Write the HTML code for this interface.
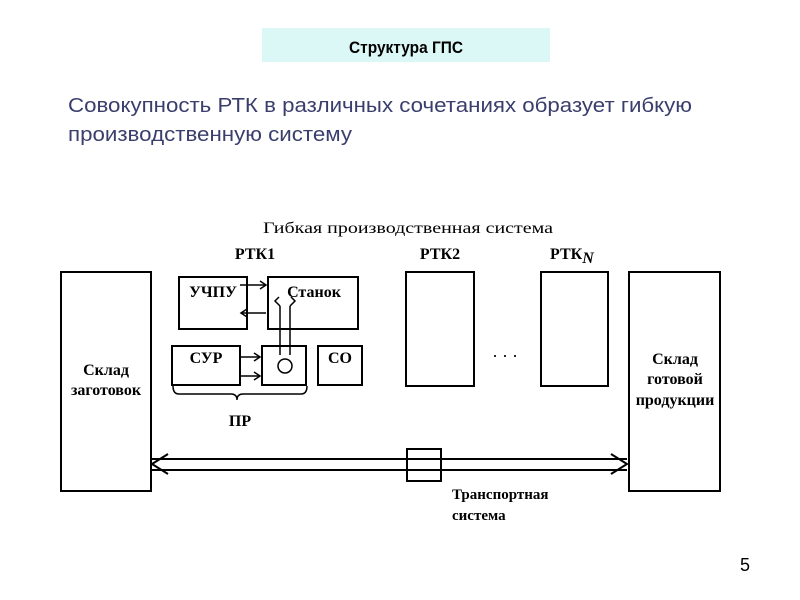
<!DOCTYPE html>
<html><head><meta charset="utf-8"><style>
html,body{margin:0;padding:0;background:#fff;}
svg{display:block;}
</style></head><body>
<svg width="800" height="600" xmlns="http://www.w3.org/2000/svg">
<rect x="0" y="0" width="800" height="600" fill="#fff"/>
<rect x="262" y="28" width="288" height="34" fill="#dcf8f6"/>
<text x="406" y="53" text-anchor="middle" font-family="Liberation Sans, sans-serif" font-weight="bold" font-size="17" fill="#000" textLength="114" lengthAdjust="spacingAndGlyphs">Структура ГПС</text>
<g font-family="Liberation Sans, sans-serif" font-size="20" fill="#3a3e6c">
<text x="68" y="112" textLength="624" lengthAdjust="spacingAndGlyphs">Совокупность РТК в различных сочетаниях образует гибкую</text>
<text x="68" y="141" textLength="284" lengthAdjust="spacingAndGlyphs">производственную систему</text>
</g>
<text x="408" y="233" text-anchor="middle" font-family="Liberation Serif, serif" font-size="16" fill="#000" textLength="290" lengthAdjust="spacingAndGlyphs">Гибкая производственная система</text>
<g fill="none" stroke="#000" stroke-width="2">
<rect x="61" y="272" width="90" height="219"/>
<rect x="629" y="272" width="91" height="219"/>
<rect x="179" y="277" width="68" height="52"/>
<rect x="268" y="277" width="90" height="52"/>
<rect x="172" y="346" width="68" height="39"/>
<rect x="262" y="346" width="44" height="39"/>
<rect x="318" y="346" width="44" height="39"/>
<rect x="406" y="272" width="68" height="114"/>
<rect x="541" y="272" width="67" height="114"/>
<rect x="407" y="449" width="34" height="32"/>
<path d="M173 386 q0 8 6 8 h52 q6 0 6 6 q0 -6 6 -6 h58 q6 0 6 -8" stroke-width="1.5"/>
<line x1="152" y1="459" x2="627" y2="459"/>
<line x1="152" y1="470" x2="627" y2="470"/>
<polyline points="168,454 152,464 168,474"/>
<polyline points="611,454 627,464 611,474"/>
<g stroke-width="1.5">
<line x1="240" y1="285" x2="266" y2="285"/><polyline points="260,281 266,285 260,289"/>
<line x1="266" y1="313" x2="241" y2="313"/><polyline points="247,309 241,313 247,317"/>
<line x1="240" y1="357" x2="260" y2="357"/><polyline points="254,353 260,357 254,361"/>
<line x1="240" y1="376" x2="260" y2="376"/><polyline points="254,372 260,376 254,380"/>
<line x1="280" y1="355" x2="280" y2="306"/><line x1="290" y1="355" x2="290" y2="306"/>
<polyline points="280,306 275,301 279,297"/><polyline points="290,306 295,301 291,297"/>
<circle cx="285" cy="366" r="7"/>
</g>
</g>
<g font-family="Liberation Serif, serif" font-weight="bold" font-size="16" fill="#000">
<text x="255" y="259" text-anchor="middle">РТК1</text>
<text x="440" y="259" text-anchor="middle">РТК2</text>
<text x="550" y="259">РТК<tspan font-style="italic" dy="4">N</tspan></text>
<text x="213" y="297" text-anchor="middle">УЧПУ</text>
<text x="314" y="297" text-anchor="middle">Станок</text>
<text x="206" y="363" text-anchor="middle">СУР</text>
<text x="340" y="363" text-anchor="middle">СО</text>
<text x="240" y="426" text-anchor="middle">ПР</text>
<text x="106" y="375" text-anchor="middle">Склад</text>
<text x="106" y="395" text-anchor="middle">заготовок</text>
<text x="675" y="364" text-anchor="middle">Склад</text>
<text x="675" y="384" text-anchor="middle">готовой</text>
<text x="675" y="405" text-anchor="middle">продукции</text>
<text x="452" y="499" font-size="15">Транспортная</text>
<text x="452" y="520" font-size="15">система</text>
</g>
<text x="505" y="357" text-anchor="middle" font-family="Liberation Sans, sans-serif" font-size="18" fill="#000">. . .</text>
<text x="745" y="571" text-anchor="middle" font-family="Liberation Sans, sans-serif" font-size="18" fill="#000">5</text>
</svg>
</body></html>
